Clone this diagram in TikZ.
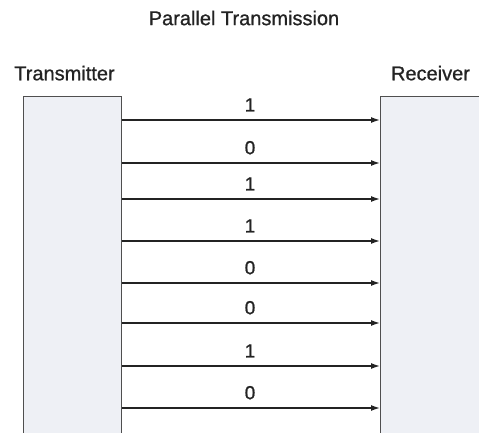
\documentclass[tikz,border=0pt]{standalone}
\usepackage{fontspec}
\setmainfont{Liberation Sans}
\newfontfamily\labelfont[FakeBold=0.9]{Liberation Sans}
\usepackage{tikz}
\usepackage{xcolor}
\usetikzlibrary{arrows.meta,positioning}

\definecolor{boxfill}{RGB}{238,240,245}
\definecolor{ink}{RGB}{35,35,35}

\begin{document}
\begin{tikzpicture}[
  x=1pt, y=-1pt,
  >={Latex[length=9pt,width=6pt]},
  every node/.style={text=ink},
  station/.style={draw=ink!80, line width=1pt, fill=boxfill, anchor=north west, inner sep=0pt},
  lbl/.style={font=\labelfont\fontsize{20}{22}\selectfont},
  bit/.style={font=\labelfont\fontsize{19}{21}\selectfont},
  wire/.style={->, draw=ink, line width=1.4pt}
]
\useasboundingbox (0,0) rectangle (479,432);
\clip (0,0) rectangle (479,432);
\node[lbl] (title) at (244,18) {Parallel Transmission};
\node[station, minimum width=98pt, minimum height=350pt] (tx) at (23,96) {};
\node[station, minimum width=110pt, minimum height=350pt] (rx) at (380,96) {};
\node[lbl, above=12pt of tx, xshift=-8pt] (txl) {Transmitter};
\node[lbl, above=12pt of rx, xshift=-5pt] (rxl) {Receiver};
\foreach \y/\b [count=\i] in {120/1,163/0,199/1,241/1,283/0,323/0,366/1,408/0}{
  \coordinate (c\i) at (250,\y);
  \node[bit, above=5pt of c\i] (b\i) {\b};
  \draw[wire] (tx.east |- c\i) -- (rx.west |- c\i);
}
\end{tikzpicture}
\end{document}
